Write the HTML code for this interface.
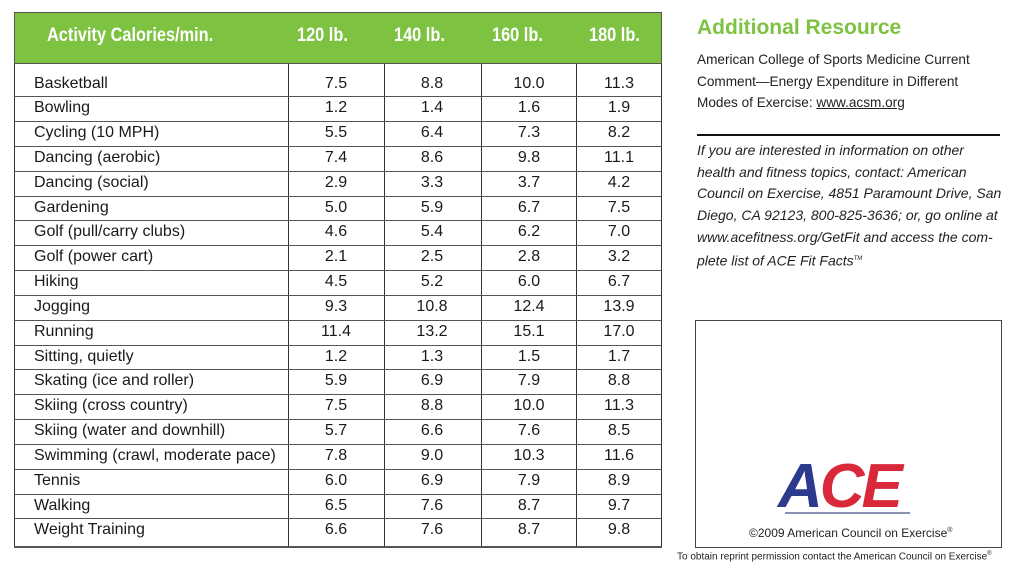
<!DOCTYPE html>
<html><head><meta charset="utf-8"><style>
body{margin:0;width:1024px;height:581px;background:#fff;position:relative;overflow:hidden;font-family:"Liberation Sans",sans-serif;color:#1a1a1a}
.a{position:absolute}
.hd{position:absolute;left:14px;top:12px;width:648px;height:52px;background:#7ec242;border:1px solid #555;box-sizing:border-box}
.ht{position:absolute;top:25px;color:#fff;font-size:19px;font-weight:bold;transform:scaleX(.86);transform-origin:left}
.r{position:absolute;left:14px;width:648px;height:25px;font-size:16px}
.r span{position:absolute;top:3px}
.vl{position:absolute;top:64px;height:483px;width:1px;background:#333}
.hl{position:absolute;left:14px;width:648px;height:1px;background:#555}
.n{width:60px;text-align:center}
.rt{position:absolute;left:697px;font-size:13.6px;color:#222}
.it{position:absolute;left:697px;font-size:14px;font-style:italic;color:#222}
</style></head><body>
<div class="hd"></div>
<div class="ht" style="left:47px">Activity Calories/min.</div>
<div class="ht" style="left:297px">120 lb.</div>
<div class="ht" style="left:394px">140 lb.</div>
<div class="ht" style="left:492px">160 lb.</div>
<div class="ht" style="left:589px">180 lb.</div>
<div class="vl" style="left:14px"></div>
<div class="vl" style="left:288px"></div>
<div class="vl" style="left:384px"></div>
<div class="vl" style="left:481px"></div>
<div class="vl" style="left:576px"></div>
<div class="vl" style="left:661px"></div>
<div class="hl" style="top:546px;height:2px"></div>
<div id="rows"></div>
<script>
const d=[["Basketball","7.5","8.8","10.0","11.3"],["Bowling","1.2","1.4","1.6","1.9"],["Cycling (10 MPH)","5.5","6.4","7.3","8.2"],["Dancing (aerobic)","7.4","8.6","9.8","11.1"],["Dancing (social)","2.9","3.3","3.7","4.2"],["Gardening","5.0","5.9","6.7","7.5"],["Golf (pull/carry clubs)","4.6","5.4","6.2","7.0"],["Golf (power cart)","2.1","2.5","2.8","3.2"],["Hiking","4.5","5.2","6.0","6.7"],["Jogging","9.3","10.8","12.4","13.9"],["Running","11.4","13.2","15.1","17.0"],["Sitting, quietly","1.2","1.3","1.5","1.7"],["Skating (ice and roller)","5.9","6.9","7.9","8.8"],["Skiing (cross country)","7.5","8.8","10.0","11.3"],["Skiing (water and downhill)","5.7","6.6","7.6","8.5"],["Swimming (crawl, moderate pace)","7.8","9.0","10.3","11.6"],["Tennis","6.0","6.9","7.9","8.9"],["Walking","6.5","7.6","8.7","9.7"],["Weight Training","6.6","7.6","8.7","9.8"]];
let h="";
d.forEach((r,i)=>{const t=71.5+i*24.83;
h+=`<div class="r" style="top:${t}px">`;
r.forEach((c,j)=>{h+=j?`<span class="n" style="left:${(j==1?306:j==2?402:j==3?499:589)-14}px">${c}</span>`:`<span style="left:20px">${c}</span>`});
h+=`</div>`;
if(i>0)h+=`<div class="hl" style="top:${t}px"></div>`;});
document.getElementById("rows").innerHTML=h;
</script>
<div class="a" style="left:697px;top:16px;font-size:21px;font-weight:bold;color:#7ec242">Additional Resource</div>
<div class="rt" style="top:49px;line-height:21.5px">American College of Sports Medicine Current<br>Comment—Energy Expenditure in Different<br>Modes of Exercise: <u>www.acsm.org</u></div>
<div class="a" style="left:697px;top:134px;width:303px;height:2px;background:#111"></div>
<div class="it" style="top:140px;line-height:21.7px">If you are interested in information on other<br>health and fitness topics, contact: American<br>Council on Exercise, 4851 Paramount Drive, San<br>Diego, CA 92123, 800-825-3636; or, go online at<br>www.acefitness.org/GetFit and access the com-<br>plete list of ACE Fit Facts<sup style="font-size:6px">TM</sup></div>
<div class="a" style="left:695px;top:320px;width:307px;height:228px;border:1px solid #444;box-sizing:border-box"></div>
<div class="a" style="left:778px;top:456px;font-size:62px;font-weight:bold;font-style:italic;letter-spacing:-3px;line-height:62px"><span style="color:#2c3a8e">A</span><span style="color:#d8283a">CE</span></div>
<div class="a" style="left:785px;top:512px;width:125px;height:2px;background:#8a8fb5"></div>
<div class="a" style="left:749px;top:526px;font-size:12px;color:#222">©2009 American Council on Exercise<sup style="font-size:7px">®</sup></div>
<div class="a" style="left:677px;top:551px;font-size:10px;color:#222">To obtain reprint permission contact the American Council on Exercise<sup style="font-size:6px">®</sup></div>
</body></html>
